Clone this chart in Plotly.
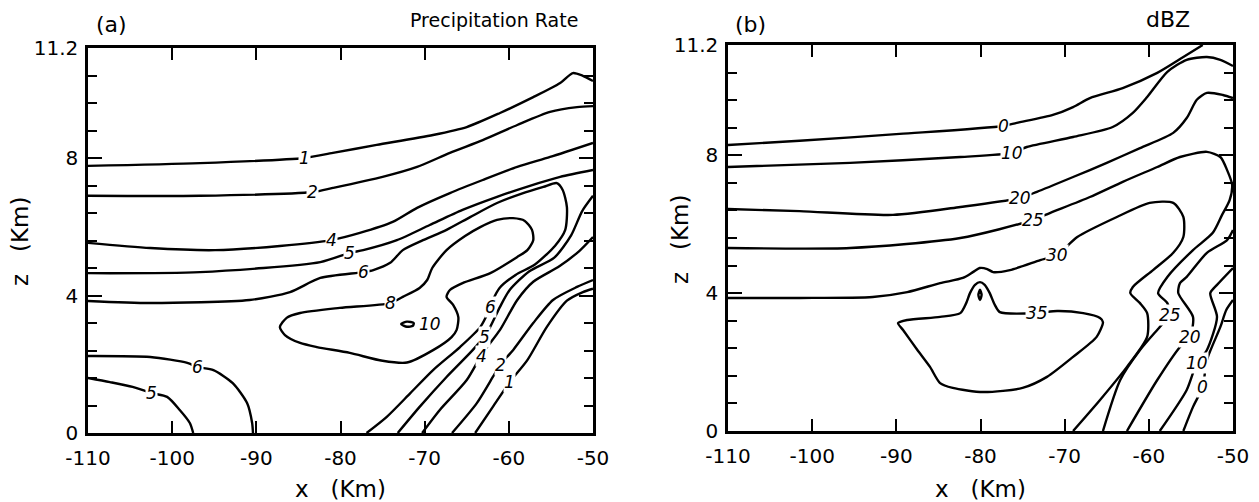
import plotly.graph_objects as go

# ---------------------------------------------------------------
# Panel (a): precipitation-rate isolines, points are (x km, z km)
# ---------------------------------------------------------------
RATE_1_UPPER = [(-110, 7.77), (-96.7, 7.85), (-84.3, 8.0), (-80.9, 8.15), (-75.7, 8.38),
                (-69.0, 8.67), (-65.0, 8.9), (-61.05, 9.31), (-57.1, 9.77), (-53.9, 10.18),
                (-52.4, 10.47), (-51.2, 10.39), (-50, 10.24)]
RATE_2_UPPER = [(-110, 6.9), (-96.7, 6.9), (-83.3, 7.01), (-80.9, 7.13), (-75.0, 7.45),
                (-70.9, 7.74), (-67.0, 8.15), (-63.1, 8.52), (-59.0, 8.96), (-55.1, 9.34),
                (-51.9, 9.48), (-50, 9.51)]
RATE_4_UPPER = [(-110, 5.53), (-102.6, 5.38), (-94.9, 5.32), (-87.2, 5.44), (-81.1, 5.61),
                (-77.7, 5.82), (-73.8, 6.14), (-70.9, 6.55), (-67.0, 6.98), (-63.1, 7.36),
                (-59.0, 7.74), (-55.1, 8.03), (-50, 8.44)]
RATE_5_UPPER = [(-110, 4.65), (-96.7, 4.68), (-82.4, 4.97), (-78.9, 5.24), (-77.3, 5.32),
                (-73.3, 5.61), (-69.4, 6.05), (-65.5, 6.49), (-61.4, 6.87), (-57.5, 7.19),
                (-53.9, 7.45), (-50, 7.65)]
RATE_6_FOLD = [(-110, 3.84), (-102.6, 3.78), (-90.8, 3.87), (-86.0, 4.1), (-82.4, 4.51),
               (-77.3, 4.68), (-76.1, 4.74), (-74.1, 4.95), (-72.6, 5.32), (-70.2, 5.61),
               (-67.4, 5.91), (-64.6, 6.28), (-61.4, 6.69), (-58.3, 6.98), (-55.9, 7.16),
               (-54.3, 7.27), (-53.6, 7.07), (-53.1, 6.57), (-53.3, 5.91), (-54.5, 5.45),
               (-56.9, 4.9), (-59.2, 4.6), (-61.1, 4.22), (-61.9, 3.87), (-62.5, 3.49),
               (-63.4, 3.08), (-65.8, 2.5), (-69.0, 1.83), (-71.7, 1.16), (-74.5, 0.47),
               (-76.9, 0)]
RATE_8_CELL = [(-87.2, 3.08), (-86.4, 3.35), (-84.8, 3.49), (-80.1, 3.64), (-74.1, 3.78),
               (-72.6, 3.96), (-70.6, 4.22), (-69.7, 4.45), (-69.1, 4.8), (-67.4, 5.32),
               (-65.2, 5.73), (-63.4, 5.99), (-61.4, 6.2), (-59.5, 6.25), (-58.1, 6.17),
               (-57.25, 5.91), (-57.1, 5.61), (-57.8, 5.32), (-59.0, 5.12), (-62.2, 4.65),
               (-65.5, 4.36), (-67.0, 4.16), (-67.4, 3.96), (-66.6, 3.72), (-66.0, 3.37),
               (-66.2, 3.0), (-66.8, 2.79), (-69.0, 2.41), (-72.1, 2.05), (-75.0, 2.1),
               (-78.9, 2.33), (-82.8, 2.5), (-84.8, 2.62), (-86.6, 2.85), (-87.2, 3.08)]
RATE_10_CORE = [(-72.8, 3.17), (-72.1, 3.24), (-71.3, 3.2), (-71.4, 3.12), (-72.1, 3.09),
                (-72.8, 3.17)]
RATE_6_LOWER = [(-110, 2.24), (-102.6, 2.21), (-98.2, 2.04), (-97.0, 1.92), (-95.1, 1.83),
                (-92.8, 1.45), (-91.1, 0.87), (-90.5, 0.29), (-90.4, 0)]
RATE_5_LOWER = [(-110, 1.6), (-107.4, 1.48), (-104.7, 1.34), (-102.4, 1.16), (-100.6, 1.05),
                (-99.1, 0.67), (-97.9, 0.29), (-97.5, 0)]
RATE_5_RIGHT = [(-73.2, 0), (-70.6, 0.76), (-67.4, 1.63), (-64.3, 2.41), (-62.6, 2.91),
                (-61.05, 3.67), (-59.9, 4.16), (-57.6, 4.7), (-54.6, 5.1), (-52.6, 5.75),
                (-51.3, 6.45), (-50, 6.9)]
RATE_4_RIGHT = [(-70.3, 0), (-68.2, 0.67), (-65.0, 1.54), (-63.1, 2.33), (-61.05, 3.0),
                (-59.0, 3.87), (-57.1, 4.4), (-54.0, 4.85), (-51.6, 5.3), (-50, 5.7)]
RATE_2_RIGHT = [(-66.75, 0), (-63.8, 0.87), (-61.9, 1.63), (-61.05, 1.98), (-59.5, 2.41),
                (-57.1, 3.2), (-54.75, 3.87), (-51.9, 4.25), (-50, 4.45)]
RATE_1_RIGHT = [(-64.0, 0), (-61.9, 0.76), (-59.9, 1.48), (-57.8, 2.12), (-55.5, 3.08),
                (-53.1, 3.85), (-51.2, 4.1), (-50, 4.2)]

# (level, path, label positions)
RATE_ISOLINES = [
    (1, RATE_1_UPPER, [(-84.3, 8.0)]),
    (2, RATE_2_UPPER, [(-83.3, 7.01)]),
    (4, RATE_4_UPPER, [(-81.1, 5.61)]),
    (5, RATE_5_UPPER, [(-78.9, 5.24)]),
    (6, RATE_6_FOLD, [(-77.3, 4.68), (-62.2, 3.68)]),
    (8, RATE_8_CELL, [(-74.1, 3.78)]),
    (10, RATE_10_CORE, [(-69.4, 3.17)]),
    (6, RATE_6_LOWER, [(-97.0, 1.92)]),
    (5, RATE_5_LOWER, [(-102.4, 1.16)]),
    (5, RATE_5_RIGHT, [(-62.9, 2.8)]),
    (4, RATE_4_RIGHT, [(-63.3, 2.25)]),
    (2, RATE_2_RIGHT, [(-61.05, 1.98)]),
    (1, RATE_1_RIGHT, [(-59.9, 1.48)]),
]

# ---------------------------------------------------------------
# Panel (b): radar reflectivity isolines (dBZ)
# ---------------------------------------------------------------
DBZ_0_UPPER = [(-110, 8.3), (-101.5, 8.42), (-89.6, 8.62), (-77.3, 8.85), (-75.7, 8.94),
               (-71.4, 9.17), (-69.0, 9.4), (-67.0, 9.66), (-63.1, 9.95), (-59.0, 10.39),
               (-55.9, 10.85), (-53.6, 11.2)]
DBZ_10_UPPER = [(-110, 7.66), (-95.5, 7.78), (-82.4, 7.95), (-76.3, 8.07), (-74.5, 8.24),
                (-69.0, 8.53), (-64.3, 8.82), (-61.9, 9.23), (-60.2, 9.69), (-57.8, 10.42),
                (-55.5, 10.77), (-53.1, 10.85), (-51.5, 10.77), (-50, 10.59)]
DBZ_20_UPPER = [(-110, 6.44), (-101.5, 6.38), (-90.4, 6.27), (-82.4, 6.5), (-75.3, 6.76),
                (-73.3, 6.94), (-69.0, 7.37), (-65.0, 7.78), (-61.05, 8.21), (-57.1, 8.65),
                (-55.5, 9.08), (-54.3, 9.61), (-53.1, 9.81), (-51.2, 9.75), (-50, 9.66)]
DBZ_25_FOLD = [(-110, 5.31), (-95.5, 5.31), (-82.4, 5.6), (-73.8, 6.12), (-71.7, 6.33),
               (-67.0, 6.79), (-63.1, 7.23), (-59.0, 7.66), (-56.3, 7.95), (-53.1, 8.1),
               (-51.5, 7.95), (-50.7, 7.57), (-50.1, 7.14), (-50.4, 6.7), (-51.3, 6.27),
               (-52.4, 5.75), (-54.75, 5.25), (-57.8, 4.47), (-58.9, 4.0), (-57.8, 3.71),
               (-57.5, 3.37), (-58.7, 3.02), (-61.05, 2.35), (-63.4, 1.48), (-65.45, 0)]
DBZ_30_FOLD = [(-110, 3.86), (-101.5, 3.86), (-92.8, 3.89), (-88.7, 4.03), (-84.8, 4.29),
               (-82.1, 4.44), (-80.9, 4.61), (-80.1, 4.73), (-79.2, 4.7), (-78.5, 4.61),
               (-76.5, 4.67), (-72.9, 4.96), (-70.9, 5.11), (-68.5, 5.63), (-63.8, 6.21),
               (-59.9, 6.62), (-57.1, 6.62), (-55.9, 6.21), (-55.9, 5.63), (-57.1, 5.17),
               (-59.5, 4.67), (-61.9, 4.18), (-62.2, 4.0), (-61.05, 3.71), (-60.2, 3.42),
               (-60.2, 2.73), (-62.6, 1.86), (-65.8, 0.9), (-69.0, 0)]
DBZ_35_CELL = [(-89.8, 3.13), (-88.7, 3.22), (-84.8, 3.31), (-82.4, 3.42), (-81.7, 3.71),
               (-81.25, 4.0), (-80.65, 4.24), (-80.06, 4.32), (-79.5, 4.24), (-78.9, 4.0),
               (-78.3, 3.66), (-77.7, 3.45), (-73.3, 3.42), (-70.9, 3.48), (-67.8, 3.42),
               (-65.8, 3.28), (-65.45, 3.16), (-66.2, 2.73), (-69.0, 2.15), (-72.1, 1.57),
               (-75.0, 1.25), (-79.7, 1.13), (-83.3, 1.25), (-84.8, 1.39), (-86.0, 1.86),
               (-87.5, 2.35), (-89.2, 2.93), (-89.8, 3.13)]
DBZ_40_CORE = [(-80.25, 3.95), (-80.06, 4.1), (-79.87, 3.95), (-80.06, 3.8), (-80.25, 3.95)]
DBZ_20_RIGHT = [(-62.6, 0), (-59.0, 1.48), (-56.3, 2.44), (-55.1, 2.73), (-54.75, 3.31),
                (-56.5, 4.0), (-56.3, 4.29), (-55.5, 4.47), (-53.1, 5.17), (-50.7, 5.54),
                (-50, 5.83)]
DBZ_10_RIGHT = [(-58.7, 0), (-55.5, 1.19), (-54.3, 1.97), (-53.1, 2.35), (-51.9, 3.31),
                (-52.7, 4.0), (-51.9, 4.24), (-50, 4.73)]
DBZ_0_RIGHT = [(-55.9, 0), (-54.75, 0.7), (-53.6, 1.28), (-53.1, 2.06), (-51.5, 3.02),
               (-50.8, 3.51), (-50, 3.8)]

DBZ_ISOLINES = [
    (0, DBZ_0_UPPER, [(-77.3, 8.85)]),
    (10, DBZ_10_UPPER, [(-76.3, 8.07)]),
    (20, DBZ_20_UPPER, [(-75.3, 6.76)]),
    (25, DBZ_25_FOLD, [(-73.8, 6.12), (-57.5, 3.37)]),
    (30, DBZ_30_FOLD, [(-70.9, 5.11)]),
    (35, DBZ_35_CELL, [(-73.3, 3.42)]),
    (40, DBZ_40_CORE, []),
    (20, DBZ_20_RIGHT, [(-55.1, 2.73)]),
    (10, DBZ_10_RIGHT, [(-54.3, 1.97)]),
    (0, DBZ_0_RIGHT, [(-53.6, 1.28)]),
]

# Axis ticks
X_TICKS = [-110, -100, -90, -80, -70, -60, -50]
X_TICK_TEXT = ["-110", "-100", "-90", "-80", "-70", "-60", "-50"]
Z_TICKS = [0, 4, 8, 11.2]
Z_TICK_TEXT = ["0", "4", "8", "11.2"]
Z_MINOR = [0.8 * k for k in range(15)]

FONT = "DejaVu Sans"
W, H = 1259, 502

fig = go.Figure()


def draw_panel(isolines, xa, ya):
    for level, path, labels in isolines:
        xs = [p[0] for p in path]
        zs = [p[1] for p in path]
        fig.add_trace(go.Scatter(
            x=xs, y=zs, mode="lines", xaxis=xa, yaxis=ya,
            line=dict(color="black", width=2.4, shape="spline", smoothing=0.7),
            hoverinfo="skip", showlegend=False,
        ))
        for lx, lz in labels:
            fig.add_annotation(
                x=lx, y=lz, xref=xa, yref=ya, text=str(level), showarrow=False,
                xanchor="center", yanchor="middle",
                font=dict(family=FONT, size=17, color="black", style="italic"),
                bgcolor="white", borderpad=0,
            )


draw_panel(RATE_ISOLINES, "x", "y")
draw_panel(DBZ_ISOLINES, "x2", "y2")


def xaxis_style(left, right):
    return dict(
        domain=[left / W, right / W], range=[-110, -50], automargin=False,
        tickvals=X_TICKS, ticktext=X_TICK_TEXT, ticks="inside", ticklen=12,
        tickwidth=2, tickcolor="black", showline=True, linecolor="black",
        linewidth=2.5, mirror="ticks", showgrid=False, zeroline=False,
        tickfont=dict(family=FONT, size=20, color="black"), ticklabelstandoff=5,
    )


def yaxis_style(top, bottom, anchor):
    return dict(
        domain=[1 - bottom / H, 1 - top / H], range=[0, 11.2], anchor=anchor,
        automargin=False,
        tickvals=Z_TICKS, ticktext=Z_TICK_TEXT, ticks="inside", ticklen=14,
        tickwidth=2, tickcolor="black", showline=True, linecolor="black",
        linewidth=2.5, mirror="ticks", showgrid=False, zeroline=False,
        minor=dict(tickvals=Z_MINOR, ticks="inside", ticklen=9, tickwidth=2,
                   tickcolor="black", showgrid=False),
        tickfont=dict(family=FONT, size=20, color="black"), ticklabelstandoff=3,
    )


fig.update_layout(
    width=W, height=H, margin=dict(l=0, r=0, t=0, b=0, autoexpand=False),
    paper_bgcolor="white", plot_bgcolor="white",
    xaxis=dict(anchor="y", **xaxis_style(88, 593)),
    yaxis=yaxis_style(48, 433, "x"),
    xaxis2=dict(anchor="y2", **xaxis_style(728, 1233)),
    yaxis2=yaxis_style(45, 431, "x2"),
)


def text_px(px, py, s, size=19, angle=0):
    fig.add_annotation(
        x=px / W, y=1 - py / H, xref="paper", yref="paper", text=s,
        showarrow=False, textangle=angle, xanchor="center", yanchor="middle",
        font=dict(family=FONT, size=size, color="black"),
    )


text_px(111, 25, "(a)", 22)
text_px(494, 20, "Precipitation\u00a0Rate", 19)
text_px(750, 25, "(b)", 22)
text_px(1168, 20, "dBZ", 22)
text_px(20, 242, "z\u00a0\u00a0\u00a0(Km)", 23, -90)
text_px(680, 240, "z\u00a0\u00a0\u00a0(Km)", 23, -90)
text_px(340, 489, "x\u00a0\u00a0\u00a0(Km)", 23)
text_px(980, 489, "x\u00a0\u00a0\u00a0(Km)", 23)

fig.write_html("out.html")
